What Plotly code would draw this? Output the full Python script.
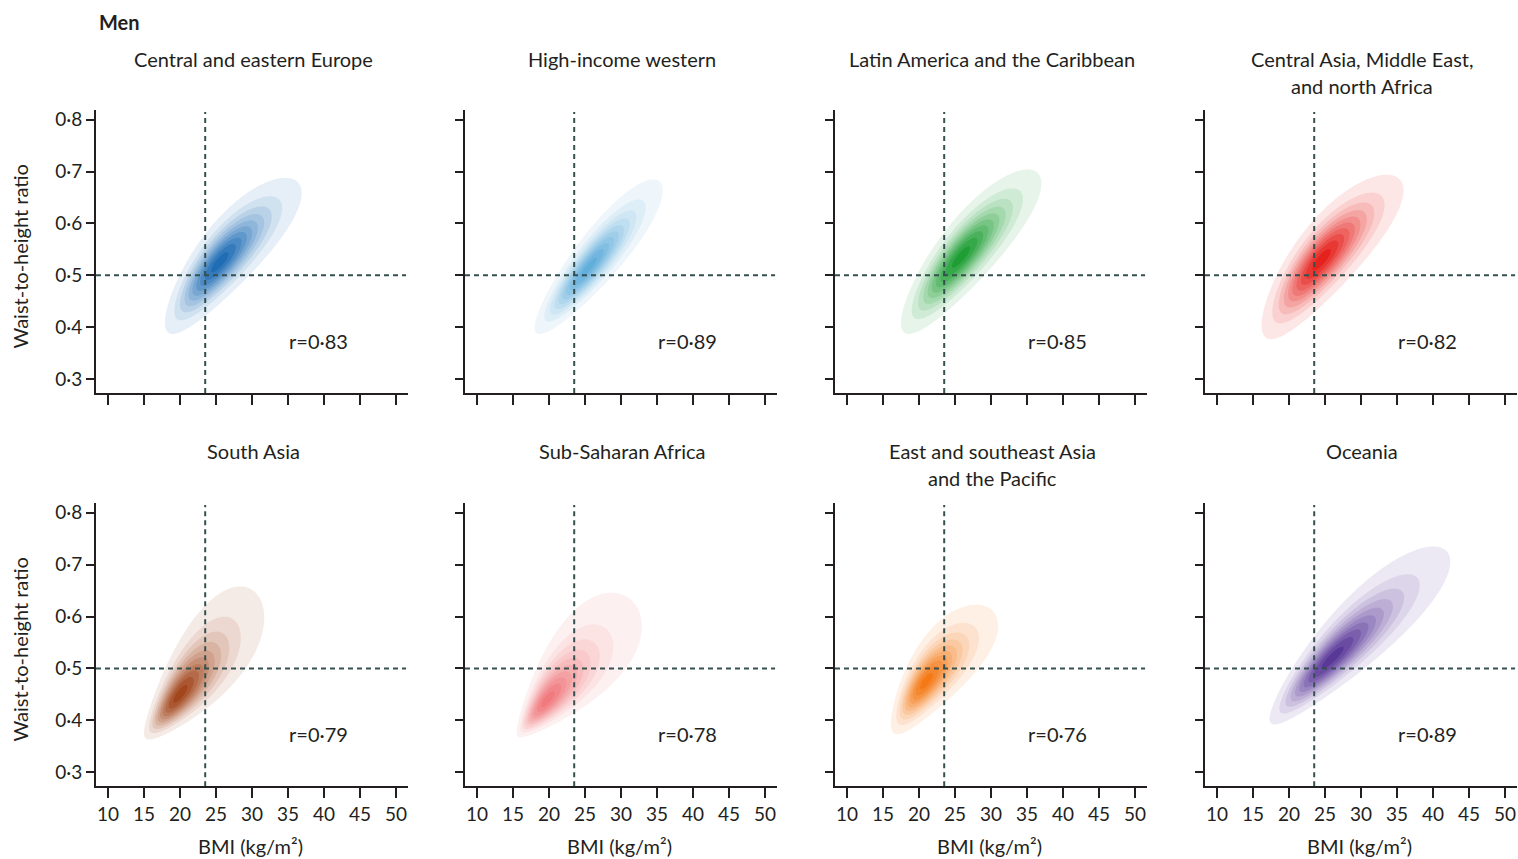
import numpy as np
import plotly.graph_objects as go

# ---- data -------------------------------------------------------------
regions = [
    "Central and eastern Europe",
    "High-income western",
    "Latin America and the Caribbean",
    "Central Asia, Middle East,\nand north Africa",
    "South Asia",
    "Sub-Saharan Africa",
    "East and southeast Asia\nand the Pacific",
    "Oceania",
]
# correlation between BMI and waist-to-height ratio
r_values = [0.83, 0.89, 0.85, 0.82, 0.79, 0.78, 0.76, 0.89]
# extent of the outer (95%) density region and the location of the density peak
bmi_low = [17.9, 18.0, 17.5, 16.2, 15.0, 15.5, 16.1, 17.3]
bmi_high = [36.9, 35.8, 37.0, 35.9, 31.7, 32.9, 31.0, 42.4]
bmi_peak = [25.5, 25.5, 25.8, 24.5, 20.0, 19.8, 21.0, 26.0]
whtr_low = [0.387, 0.387, 0.387, 0.377, 0.363, 0.367, 0.373, 0.392]
whtr_high = [0.688, 0.685, 0.704, 0.694, 0.658, 0.646, 0.623, 0.735]
whtr_peak = [0.525, 0.515, 0.535, 0.530, 0.450, 0.440, 0.475, 0.520]
# reference cut-offs
bmi_cut = 23.5
whtr_cut = 0.5

colors = ["#1f6db5", "#62aedb", "#1f9e35", "#e5221d",
          "#a2461c", "#f07a7e", "#f47a17", "#5a3898"]

bmi_ticks = [10, 15, 20, 25, 30, 35, 40, 45, 50]
whtr_ticks = [0.3, 0.4, 0.5, 0.6, 0.7, 0.8]
whtr_ticktext = ["0·3", "0·4", "0·5", "0·6", "0·7", "0·8"]

# ---- layout geometry (pixels) -----------------------------------------
W, H = 1518, 859
col_left = [96, 465, 835, 1205]
panel_w = 312
row_top = [108, 502]
row_bottom = [392, 786]
x_range = [8.333, 51.667]
y_range = [0.2731, 0.8192]

FONT = "Lato"
INK = "#231f20"
DASH = "#35504f"
TEXT_SIZE = 20
TICK_SIZE = 19

# contour levels as fractions of the peak density
LEVEL_START, LEVEL_END, LEVEL_STEP = 0.05, 0.95, 0.1
N_LEVELS = 10
D_OUT = np.sqrt(-2 * np.log(LEVEL_START))


def axis_transform(lo, hi, peak):
    """Shifted-log transform so the outer region spans [lo, hi] and is centred at peak."""
    den = lo + hi - 2 * peak
    if abs(den) < 1e-6 * (hi - lo):
        centre, sd = peak, (hi - lo) / (2 * D_OUT)
        return lambda v: (v - centre) / sd
    a = (lo * hi - peak ** 2) / den
    if a < lo:
        f = lambda v: np.log(np.where(v - a > 1e-12, v - a, 1e-12))
    else:
        f = lambda v: -np.log(np.where(a - v > 1e-12, a - v, 1e-12))
    t_lo, t_hi = f(np.array(lo)), f(np.array(hi))
    centre, sd = (t_lo + t_hi) / 2, (t_hi - t_lo) / (2 * D_OUT)
    return lambda v: (f(v) - centre) / sd


def density(i, xs, ys):
    tx = axis_transform(bmi_low[i], bmi_high[i], bmi_peak[i])
    ty = axis_transform(whtr_low[i], whtr_high[i], whtr_peak[i])
    X, Y = np.meshgrid(xs, ys)
    u, v = tx(X), ty(Y)
    rho = r_values[i]
    q = (u ** 2 - 2 * rho * u * v + v ** 2) / (1 - rho ** 2)
    z = np.exp(-0.5 * q)
    return z / z.max()


def hex_rgb(h):
    h = h.lstrip("#")
    return tuple(int(h[k:k + 2], 16) for k in (0, 2, 4))


def band_scale(hexcol):
    r0, g0, b0 = hex_rgb(hexcol)
    scale = [[0.0, "rgba(255,255,255,0)"]]
    for k in range(1, N_LEVELS + 1):
        t = 0.11 + 0.89 * (k - 1) / (N_LEVELS - 1)
        c = [round(255 * (1 - t) + ch * t) for ch in (r0, g0, b0)]
        scale.append([k / N_LEVELS, f"rgb({c[0]},{c[1]},{c[2]})"])
    return scale


xs = np.linspace(x_range[0], x_range[1], 360)
ys = np.linspace(y_range[0], y_range[1], 360)

fig = go.Figure()
layout = {}
shapes = []
annotations = []

for i, name in enumerate(regions):
    row, col = divmod(i, 4)
    n = i + 1
    xa = "x" if n == 1 else f"x{n}"
    ya = "y" if n == 1 else f"y{n}"
    left = col_left[col]
    top, bottom = row_top[row], row_bottom[row]

    fig.add_trace(go.Contour(
        x=xs, y=ys, z=density(i, xs, ys),
        xaxis=xa, yaxis=ya,
        autocontour=False,
        contours=dict(start=LEVEL_START, end=LEVEL_END, size=LEVEL_STEP,
                      coloring="fill", showlines=False),
        line=dict(width=0),
        colorscale=band_scale(colors[i]),
        showscale=False, hoverinfo="skip",
    ))

    axis_common = dict(showline=True, linewidth=2, linecolor=INK, ticks="outside",
                       tickwidth=2, tickcolor=INK, showgrid=False, zeroline=False,
                       tickfont=dict(family=FONT, size=TICK_SIZE, color=INK))
    layout["xaxis" if n == 1 else f"xaxis{n}"] = dict(
        axis_common,
        domain=[left / W, min(left + panel_w, W) / W],
        range=x_range, anchor=ya, ticklen=10,
        tickvals=bmi_ticks, showticklabels=(row == 1),
    )
    layout["yaxis" if n == 1 else f"yaxis{n}"] = dict(
        axis_common,
        domain=[1 - bottom / H, 1 - top / H],
        range=y_range, anchor=xa, ticklen=8,
        tickvals=whtr_ticks, ticktext=whtr_ticktext, showticklabels=(col == 0),
    )

    # reference cut-off lines
    shapes.append(dict(type="line", xref=xa, yref=ya, x0=bmi_cut, x1=bmi_cut,
                       y0=y_range[0], y1=0.815, layer="above",
                       line=dict(color=DASH, width=2, dash="5px,4px")))
    shapes.append(dict(type="line", xref=xa, yref=ya, x0=x_range[0], x1=51.4,
                       y0=whtr_cut, y1=whtr_cut, layer="above",
                       line=dict(color=DASH, width=2, dash="5px,4px")))

    # correlation label
    annotations.append(dict(xref=xa, yref=ya, x=39.2, y=0.374, showarrow=False,
                            text=f"r={r_values[i]:.2f}".replace(".", "·"),
                            font=dict(family=FONT, size=TEXT_SIZE, color=INK)))

    # panel title (one annotation per line)
    title_y0 = 57 if row == 0 else 450
    for k, line in enumerate(name.split("\n")):
        annotations.append(dict(xref="paper", yref="paper",
                                x=(left + panel_w / 2 + 1) / W,
                                y=1 - (title_y0 + 27 * k) / H,
                                xanchor="center", yanchor="middle", showarrow=False,
                                text=line, font=dict(family=FONT, size=TEXT_SIZE, color=INK)))

    if col == 0:
        annotations.append(dict(xref="paper", yref="paper", x=20 / W,
                                y=1 - ((top + bottom) / 2 + 5) / H,
                                xanchor="center", yanchor="middle", showarrow=False,
                                textangle=-90, text="Waist-to-height ratio",
                                font=dict(family=FONT, size=TEXT_SIZE, color=INK)))
    if row == 1:
        annotations.append(dict(xref="paper", yref="paper",
                                x=(left + panel_w / 2 - 2) / W, y=1 - 846 / H,
                                xanchor="center", yanchor="middle", showarrow=False,
                                text="BMI (kg/m²)",
                                font=dict(family=FONT, size=TEXT_SIZE, color=INK)))

annotations.append(dict(xref="paper", yref="paper", x=97 / W, y=1 - 20 / H,
                        xanchor="left", yanchor="middle", showarrow=False,
                        text="<b>Men</b>", font=dict(family=FONT, size=20, color=INK)))

fig.update_layout(
    width=W, height=H,
    margin=dict(l=0, r=0, t=0, b=0),
    paper_bgcolor="white", plot_bgcolor="rgba(0,0,0,0)",
    showlegend=False,
    shapes=shapes, annotations=annotations,
    **layout,
)

fig.write_html("out.html")
